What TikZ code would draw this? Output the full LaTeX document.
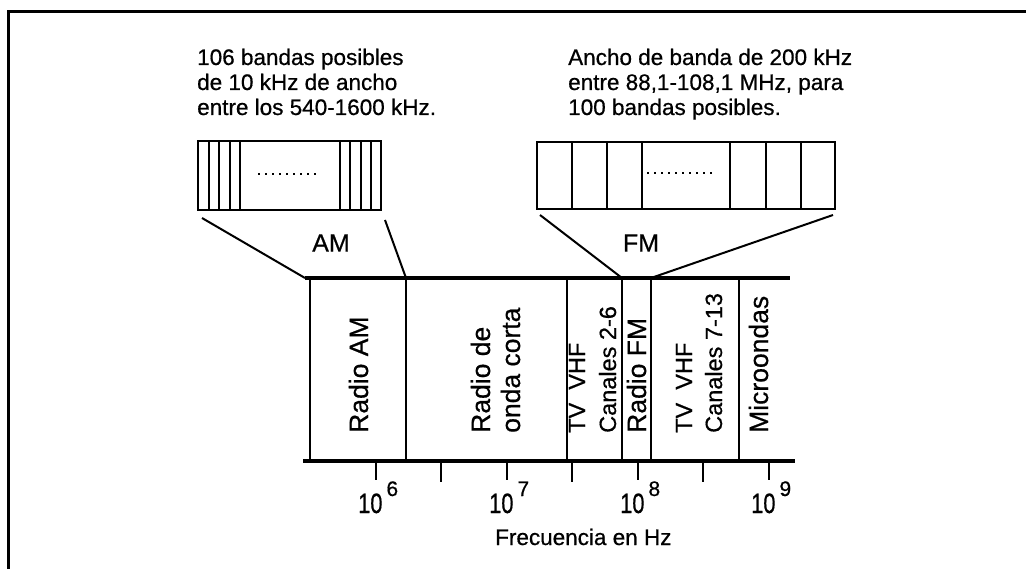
\documentclass[tikz,border=0pt]{standalone}
\usepackage{fontspec}
\setmainfont[FakeBold=0]{Liberation Sans}
\newfontfamily\darkfont[FakeBold=0.6]{Liberation Sans}
\begin{document}
\begin{tikzpicture}[x=1pt,y=-1pt,
  frame/.style={line width=3pt},
  bandline/.style={line width=3.4pt},
  divline/.style={line width=2pt},
  boxline/.style={line width=2pt},
  tickline/.style={line width=2pt},
  dotline/.style={line width=1.6pt,dash pattern=on 1.6pt off 5.4pt},
  btxt/.style={rotate=90,anchor=base west,inner sep=0pt,font=\darkfont\fontsize{26.5}{30}\selectfont},
  ctxt/.style={rotate=90,anchor=base west,inner sep=0pt,font=\darkfont\fontsize{23.5}{28}\selectfont},
  toptxt/.style={anchor=base west,inner sep=0pt,font=\darkfont\fontsize{22.5}{25.5}\selectfont},
  lbl/.style={inner sep=0pt,font=\darkfont\fontsize{25}{28}\selectfont},
  exptxt/.style={anchor=base west,inner sep=0pt,font=\darkfont\fontsize{28}{28}\selectfont},
]
\useasboundingbox (0,0) rectangle (1026,569);
\fill[white] (0,0) rectangle (1026,569);
% frame (top and left only)
\draw[frame] (8,569) -- (8,12) -- (1026,12);

% top texts
\node[toptxt] (am1) at (197,65) {106 bandas posibles};
\node[toptxt] (am2) at (197,90) {de 10 kHz de ancho};
\node[toptxt] (am3) at (197,115) {entre los 540-1600 kHz.};
\node[toptxt] (fm1) at (568,65) {Ancho de banda de 200 kHz};
\node[toptxt] (fm2) at (568,90) {entre 88,1-108,1 MHz, para};
\node[toptxt] (fm3) at (568,115) {100 bandas posibles.};

% AM zoom box
\draw[boxline] (198,141) rectangle (381,210);
\foreach \x in {208.5,219,229.5,240,339.5,350,360.5,371}
  \draw[boxline] (\x,141) -- (\x,210);
\draw[line width=2.4pt] (240,141) -- (339.5,141) (240,210) -- (339.5,210);
\draw[dotline] (258,174) -- (320,174);
\node[lbl] (amlbl) at (331,243) {AM};

% FM zoom box
\draw[boxline] (537,142) rectangle (835,209);
\foreach \x in {572,607,642,730,766,801}
  \draw[boxline] (\x,142) -- (\x,209);
\draw[dotline] (647,173) -- (714,173);
\node[lbl] (fmlbl) at (641,243) {FM};

% band coordinates
\coordinate (bTL) at (305,278);
\coordinate (bTR) at (790,278);
\coordinate (bBL) at (303,461);
\coordinate (bBR) at (795,461);
\coordinate (d1t) at (310,278); \coordinate (d1b) at (310,461);
\coordinate (d2t) at (406,278); \coordinate (d2b) at (406,461);
\coordinate (d3t) at (567,278); \coordinate (d3b) at (567,461);
\coordinate (d4t) at (622,278); \coordinate (d4b) at (622,461);
\coordinate (d5t) at (651,278); \coordinate (d5b) at (651,461);
\coordinate (d6t) at (739,278); \coordinate (d6b) at (739,461);

\draw[bandline] (bTL) -- (bTR);
\draw[bandline] (bBL) -- (bBR);
\foreach \i in {1,...,6}
  \draw[divline] (d\i t) -- (d\i b);

% zoom connectors
\coordinate (amL) at (202,218);
\coordinate (amR) at (385,220);
\coordinate (fmL) at (540,215);
\coordinate (fmR) at (833,215);
\draw[boxline] (amL) -- (bTL);
\draw[boxline] (amR) -- (d2t);
\draw[boxline] (fmL) -- (d4t);
\draw[boxline] (fmR) -- (d5t);

% band texts
\node[btxt] (tam) at (368,433) {Radio AM};
\node[btxt] (toc1) at (490,433) {Radio de};
\node[btxt] (toc2) at (520,433) {onda corta};
\node[ctxt] (tv1a) at (585,433) {TV\ \ VHF};
\node[ctxt] (tv1b) at (616,433) {Canales 2-6};
\node[btxt] (tfm) at (646,433) {Radio FM};
\node[ctxt] (tv2a) at (692,433) {TV\ \ VHF};
\node[ctxt] (tv2b) at (722,433) {Canales 7-13};
\node[btxt] (tmw) at (768,433) {Microondas};

% ticks
\foreach \x in {376,507,638,769}
  \draw[tickline] (\x,462) -- (\x,480);
\foreach \x in {441,572,703}
  \draw[tickline] (\x,462) -- (\x,482);

% tick labels
\node[exptxt] (e6) at (358,513) {\scalebox{0.78}[1]{10}\hspace{4pt}\raisebox{17pt}{\fontsize{21}{21}\selectfont 6}};
\node[exptxt] (e7) at (489,513) {\scalebox{0.78}[1]{10}\hspace{4pt}\raisebox{17pt}{\fontsize{21}{21}\selectfont 7}};
\node[exptxt] (e8) at (620,513) {\scalebox{0.78}[1]{10}\hspace{4pt}\raisebox{17pt}{\fontsize{21}{21}\selectfont 8}};
\node[exptxt] (e9) at (751,513) {\scalebox{0.78}[1]{10}\hspace{4pt}\raisebox{17pt}{\fontsize{21}{21}\selectfont 9}};

\node[anchor=base west,inner sep=0pt,font=\darkfont\fontsize{22.5}{25}\selectfont] (freq) at (495,545) {Frecuencia en Hz};
\end{tikzpicture}
\end{document}
